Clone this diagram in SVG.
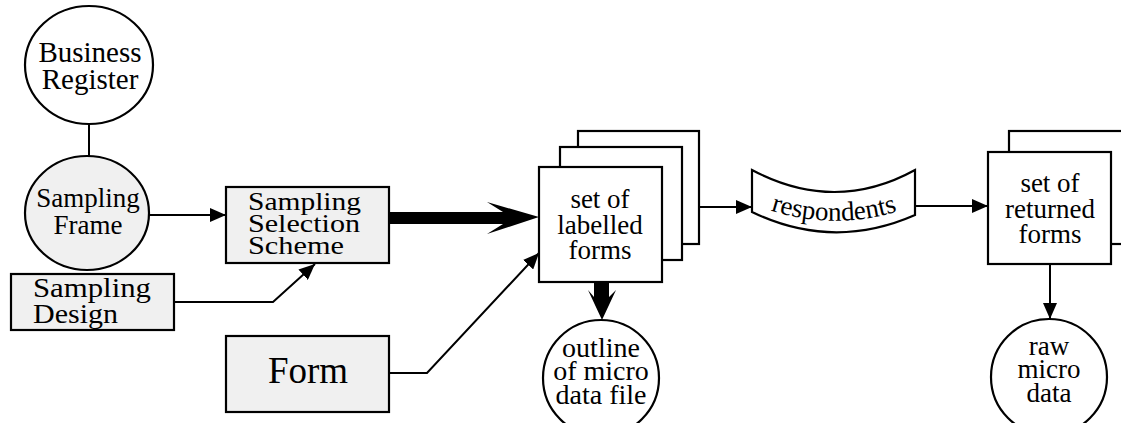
<svg xmlns="http://www.w3.org/2000/svg" width="1121" height="423" viewBox="0 0 1121 423">
<style>
.s{stroke:#000;stroke-width:2.2;}
.w{fill:#fff;}
.g{fill:#f0f0f0;}
text{font-family:"Liberation Serif","Times New Roman",serif;fill:#000;}
.c{text-anchor:middle;}
.ln{fill:none;stroke:#000;stroke-width:2;}
</style>
<defs>
<marker id="ah" markerUnits="userSpaceOnUse" markerWidth="17" markerHeight="14" refX="16" refY="7" orient="auto">
<path d="M0,0 L16,7 L0,14 z" fill="#000"/>
</marker>
</defs>
<rect width="1121" height="423" fill="#fff"/>

<g id="connectors">
<line class="ln" x1="89" y1="124" x2="89" y2="157" stroke-width="2.5"/>
<line class="ln" x1="149" y1="215" x2="226" y2="215" marker-end="url(#ah)"/>
<polyline class="ln" points="174,302 273,302 315,264" marker-end="url(#ah)"/>
<polygon points="389,212 503,212 487,202 539,217 487,234 503,224 389,224" fill="#000"/>
<polyline class="ln" points="389,373 427,373 539,253" marker-end="url(#ah)"/>
<line class="ln" x1="682" y1="207" x2="752" y2="207" marker-end="url(#ah)"/>
<polygon points="594,282 609,282 609,297 616,290 602,320 588,290 594,297" fill="#000"/>
<line class="ln" x1="915" y1="206" x2="988" y2="206" marker-end="url(#ah)"/>
<line class="ln" x1="1050" y1="264" x2="1050" y2="319" marker-end="url(#ah)"/>
</g>

<g id="business-register">
<ellipse class="s w" cx="89" cy="65" rx="64" ry="59"/>
<text class="c" x="90" y="62" font-size="29">Business</text>
<text class="c" x="90" y="89" font-size="29">Register</text>
</g>

<g id="sampling-frame">
<ellipse class="s g" cx="87" cy="213" rx="62" ry="57"/>
<text class="c" x="88" y="207" font-size="27">Sampling</text>
<text class="c" x="88" y="234" font-size="27">Frame</text>
</g>

<g id="sampling-selection-scheme">
<rect class="s g" x="226" y="187" width="163" height="76"/>
<text x="248" y="210" font-size="25" textLength="113" lengthAdjust="spacingAndGlyphs">Sampling</text>
<text x="248" y="232" font-size="25" textLength="112" lengthAdjust="spacingAndGlyphs">Selection</text>
<text x="248" y="254" font-size="25" textLength="96" lengthAdjust="spacingAndGlyphs">Scheme</text>
</g>

<g id="sampling-design">
<rect class="s g" x="11" y="274" width="163" height="56"/>
<text x="33" y="297" font-size="27" textLength="118" lengthAdjust="spacingAndGlyphs">Sampling</text>
<text x="33" y="323" font-size="27" textLength="85" lengthAdjust="spacingAndGlyphs">Design</text>
</g>

<g id="form">
<rect class="s g" x="226" y="336" width="163" height="76"/>
<text class="c" x="308" y="383" font-size="37">Form</text>
</g>

<g id="labelled-forms">
<rect class="s w" x="578" y="131" width="121" height="113"/>
<rect class="s w" x="560" y="147" width="122" height="113"/>
<rect class="s w" x="539" y="167" width="123" height="115"/>
<text class="c" x="600" y="208" font-size="27">set of</text>
<text class="c" x="600" y="234" font-size="27">labelled</text>
<text class="c" x="600" y="259" font-size="27">forms</text>
</g>

<g id="outline-micro-data-file">
<circle class="s w" cx="601" cy="378" r="58"/>
<text class="c" x="601" y="357" font-size="28">outline</text>
<text class="c" x="601" y="380" font-size="28">of micro</text>
<text class="c" x="601" y="404" font-size="28">data file</text>
</g>

<g id="respondents">
<path class="s w" d="M752,170 Q835,214 915,170 L915,215 Q833,251 752,212 Z"/>
<path id="rp" d="M760,207 Q834,234 908,208" fill="none"/>
<text class="c" font-size="27"><textPath href="#rp" startOffset="50%">respondents</textPath></text>
</g>

<g id="returned-forms">
<rect class="s w" x="1009" y="131" width="120" height="113"/>
<rect class="s w" x="988" y="152" width="123" height="112"/>
<text class="c" x="1050" y="192" font-size="27">set of</text>
<text class="c" x="1050" y="218" font-size="27">returned</text>
<text class="c" x="1050" y="243" font-size="27">forms</text>
</g>

<g id="raw-micro-data">
<circle class="s w" cx="1049" cy="377" r="58"/>
<text class="c" x="1049" y="355" font-size="27">raw</text>
<text class="c" x="1049" y="378" font-size="27">micro</text>
<text class="c" x="1049" y="402" font-size="27">data</text>
</g>
</svg>
